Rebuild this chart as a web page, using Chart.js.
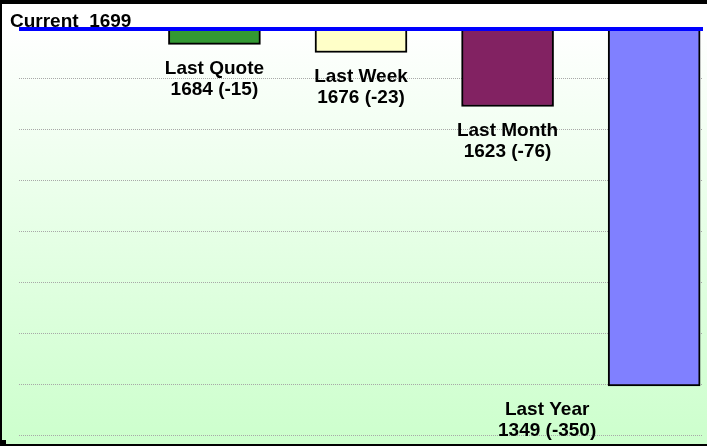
<!DOCTYPE html>
<html>
<head>
<meta charset="utf-8">
<script src="https://cdn.jsdelivr.net/npm/chart.js@4.4.1/dist/chart.umd.min.js"></script>
<style>
  html, body { margin: 0; padding: 0; background: #fff; }
  #wrap { width: 707px; height: 448px; }
</style>
</head>
<body>
<div id="wrap"><canvas id="quoteChart" width="707" height="448"></canvas></div>
<script>
// == Data ==
const currentLabel = "Current";
const currentValue = 1699;
const categories = ["Last Quote", "Last Week", "Last Month", "Last Year"];
const pastValues = [1684, 1676, 1623, 1349];
const barColors = ["#339933", "#FFFFC8", "#822262", "#8080FF"];
const yTicks = [1300, 1350, 1400, 1450, 1500, 1550, 1600, 1650, 1700];

// background gradient + frame
const framePlugin = {
    id: "frame",
    beforeDraw(chart) {
        const c = chart.ctx;
        const g = c.createLinearGradient(0, 28, 0, 445);
        g.addColorStop(0, "#FFFFFF");
        g.addColorStop(1, "#CCFFCC");
        c.save();
        c.fillStyle = "#FFFFFF";
        c.fillRect(0, 0, chart.width, chart.height);
        c.fillStyle = g;
        c.fillRect(0, 0, chart.width, 445);
        c.restore();
    },
    afterDraw(chart) {
        const c = chart.ctx;
        c.save();
        c.fillStyle = "#000";
        c.fillRect(0, 0, chart.width, 4);
        c.fillRect(0, 0, 2, 446);
        c.fillRect(0, 444, chart.width, 2);
        c.fillRect(0, 440, 6, 6);
        c.restore();
    }
};

// current line + labels under bars
const labelPlugin = {
    id: "quoteLabels",
    afterDatasetsDraw(chart, args, opts) {
        const c = chart.ctx;
        const xs = chart.scales.x, ys = chart.scales.y;
        const area = chart.chartArea;
        const yCur = ys.getPixelForValue(currentValue);

        c.save();
        c.strokeStyle = "#0000FF";
        c.lineWidth = 4;
        c.beginPath();
        c.moveTo(area.left, yCur);
        c.lineTo(area.right, yCur);
        c.stroke();

        c.fillStyle = "#000";
        c.font = "bold 19px 'Liberation Sans', Arial, sans-serif";
        c.textAlign = "left";
        c.textBaseline = "alphabetic";
        c.fillText(currentLabel + "  " + currentValue, 10, 27);

        c.textAlign = "center";
        c.textBaseline = "middle";
        categories.forEach((name, i) => {
            const v = pastValues[i];
            const diff = v - currentValue;
            let x = xs.getPixelForValue(i);
            if (i === categories.length - 1) x += opts.lastShift;
            const yb = ys.getPixelForValue(v);
            c.fillText(name, x, yb + 24);
            c.fillText(v + " (" + diff + ")", x, yb + 45);
        });
        c.restore();
    }
};

new Chart(document.getElementById("quoteChart"), {
    type: "bar",
    data: {
        datasets: [{
            data: pastValues.map((v, i) => ({ x: i, y: [currentValue, v] })),
            backgroundColor: barColors,
            borderColor: "#000",
            borderWidth: 2,
            borderSkipped: false,
            barThickness: 92
        }]
    },
    options: {
        responsive: false,
        devicePixelRatio: 1,
        animation: false,
        layout: { padding: { left: 19, right: 4, top: 28, bottom: 7 } },
        plugins: {
            legend: { display: false },
            tooltip: { enabled: false },
            quoteLabels: { lastShift: -107 }
        },
        scales: {
            x: {
                type: "linear",
                display: false,
                offset: false,
                min: -4 / 3,
                max: 10 / 3
            },
            y: {
                min: yTicks[0] - 5,
                max: yTicks[yTicks.length - 1],
                afterBuildTicks: s => { s.ticks = yTicks.map(v => ({ value: v })); },
                afterFit: s => { s.width = 0; },
                ticks: { display: false },
                grid: { color: "#A8A8A8", lineWidth: 1, drawTicks: false },
                border: { display: false, dash: [1, 1] }
            }
        }
    },
    plugins: [framePlugin, labelPlugin]
});
</script>
</body>
</html>
